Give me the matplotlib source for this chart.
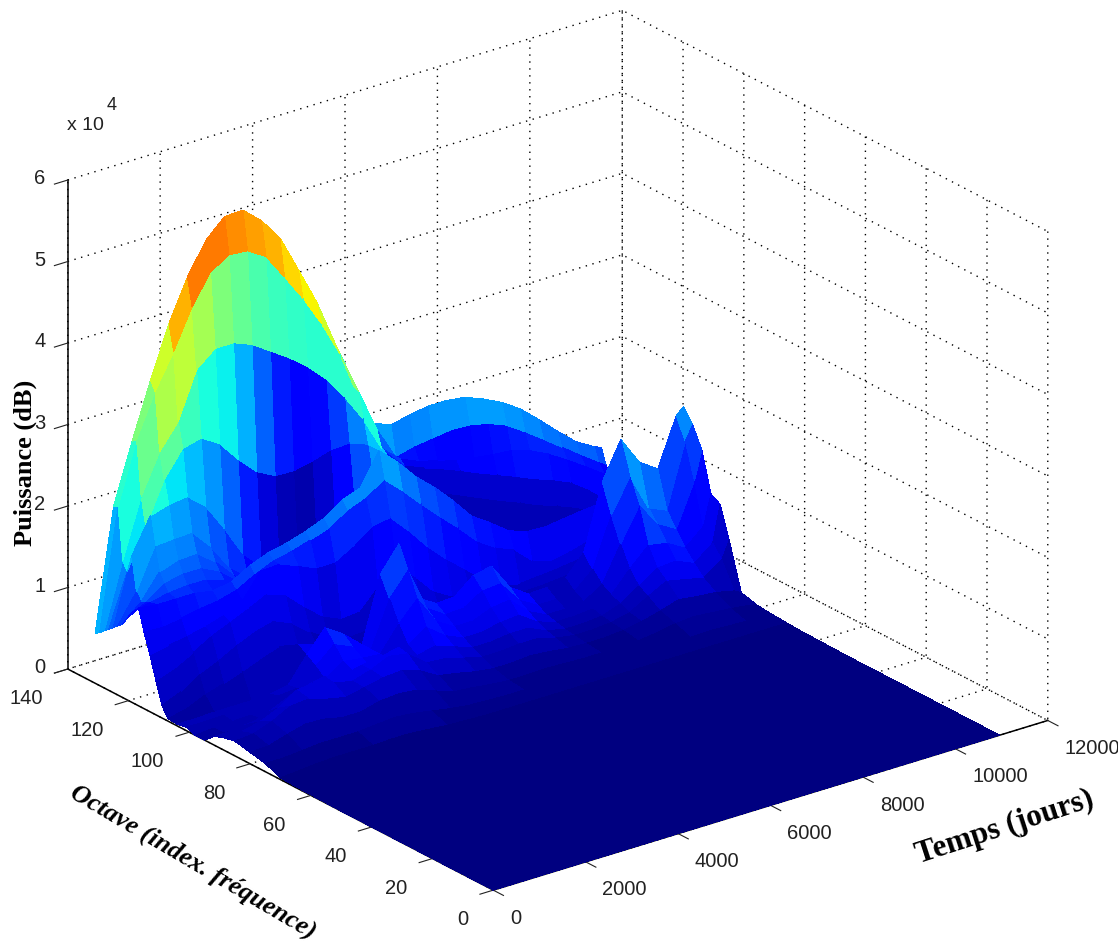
import numpy as np
import matplotlib
matplotlib.use("Agg")
import matplotlib.pyplot as plt
from mpl_toolkits.mplot3d import Axes3D  # noqa

plt.rcParams['font.family'] = ['Liberation Sans', 'DejaVu Sans']
plt.rcParams['grid.linestyle'] = (0, (1, 4))
plt.rcParams['grid.color'] = 'black'
plt.rcParams['grid.linewidth'] = 1.0

# --- data -------------------------------------------------------------
days = [0, 400, 800, 1200, 1600, 2000, 2400, 2800, 3200, 3600, 4000, 4400, 4800, 5200, 5600,
        6000, 6400, 6800, 7200, 7600, 8000, 8400, 8800, 9200, 9600, 10000, 10400, 10800, 10960]
octaves = [131, 129.5, 128, 126.5, 125, 123.5, 122, 120.5, 119, 116.7, 115, 113, 111, 109, 107,
           104, 101, 98, 95, 92, 89, 85, 80, 75, 70, 65, 50, 30, 0]
# power, in units of 1e4 dB; one row per octave, one value per day
power = [
 [.61,2.10,2.83,3.51,4.14,4.64,5.02,5.24,5.25,5.05,4.77,4.31,3.84,3.26,2.67,2.15,2.06,2.11,2.15,2.15,2.12,2.03,1.92,1.77,1.57,1.36,1.16,1.03,.99],
 [.65,2.13,2.88,3.40,3.82,4.30,4.66,4.80,4.78,4.64,4.32,3.99,3.61,3.17,2.64,2.10,1.70,1.76,1.79,1.82,1.81,1.76,1.67,1.52,1.36,1.19,1.02,.86,.80],
 [.70,1.49,2.21,2.69,2.99,3.56,3.75,3.75,3.66,3.51,3.36,3.18,2.96,2.67,2.33,1.90,1.70,1.60,1.54,1.49,1.45,1.42,1.40,1.33,1.22,1.08,.93,.77,.71],
 [.75,1.39,1.87,2.38,2.69,2.75,2.61,2.35,2.13,2.01,2.00,2.05,2.12,2.13,2.05,1.87,1.64,1.55,1.47,1.38,1.28,1.19,1.10,1.00,.92,.82,.66,.46,.37],
 [.80,1.61,2.03,2.10,2.13,1.94,1.60,1.22,1.00,.81,.80,.98,1.21,1.51,1.75,1.68,1.49,1.32,1.20,1.10,1.00,.90,.81,.71,.63,.54,.43,.24,.20],
 [.85,1.20,1.69,1.71,1.72,1.48,1.16,.98,.78,.65,.65,.76,.94,1.17,1.41,1.40,1.27,1.14,.98,.88,.78,.70,.63,.55,.47,.40,.30,.18,.15],
 [.90,1.10,1.40,1.48,1.49,1.32,1.08,.88,.70,.58,.57,.62,.75,.95,1.20,1.25,1.14,1.00,.88,.78,.68,.60,.53,.46,.40,.33,.25,.15,.12],
 [1.0,1.12,1.28,1.33,1.33,1.22,1.03,.85,.65,.52,.49,.52,.62,.80,1.02,1.12,1.03,.90,.80,.70,.60,.52,.46,.40,.34,.28,.22,.13,.10],
 [1.1,1.15,1.20,1.22,1.22,1.15,.98,.80,.60,.47,.42,.45,.52,.68,.88,1.00,.93,.82,.72,.62,.53,.46,.40,.35,.30,.25,.20,.12,.09],
 [1.20,1.17,1.17,1.17,1.13,1.17,1.30,1.39,1.44,1.51,1.60,1.76,1.84,2.23,2.02,1.77,1.57,1.34,1.08,.93,.76,.68,.67,.70,.73,.75,.53,.40,.40],
 [.95,.94,.97,1.01,1.04,1.10,1.22,1.32,1.37,1.44,1.52,1.67,1.76,1.91,1.70,1.47,1.25,1.04,.81,.66,.57,.36,.29,.33,.40,.42,.40,.35,.33],
 [.70,.74,.78,.83,.90,1.01,1.31,1.32,1.24,1.14,1.14,1.27,1.44,1.48,1.25,.99,.77,.58,.38,.23,.18,.20,.22,.25,.30,.33,.34,.32,.30],
 [.42,.50,.62,.75,.85,.95,1.06,.99,.78,.59,.49,.51,.75,.93,.73,.48,.35,.25,.18,.14,.13,.14,.16,.20,.24,.27,.28,.27,.25],
 [.15,.25,.40,.50,.62,.72,.78,.68,.50,.35,.28,.30,.45,.60,.45,.30,.20,.14,.10,.09,.09,.10,.13,.18,.22,.25,.30,.50,.55],
 [.03,.08,.18,.25,.33,.42,.50,.45,.38,.20,.16,.20,.30,.35,.28,.20,.15,.12,.08,.07,.08,.10,.20,.50,.80,.70,.70,1.0,1.10],
 [.02,.02,.03,.03,.03,.04,.08,.38,.65,.50,.30,1.10,1.40,.67,.53,.54,.73,.78,.45,.30,.31,.35,.60,1.40,1.85,1.50,1.35,1.93,2.02],
 [.04,.04,.05,.06,.07,.08,.10,.30,.50,.40,.30,.85,1.13,.60,.45,.46,.60,.62,.35,.22,.22,.25,.45,1.05,1.45,1.00,.90,1.68,1.85],
 [0,.02,.03,.04,.05,.06,.10,.20,.35,.32,.30,.60,.84,.50,.36,.36,.45,.48,.27,.16,.16,.18,.32,.75,1.15,.85,.72,1.25,1.60],
 [0,.02,.03,.05,.08,.15,.20,.25,.30,.28,.30,.40,.55,.38,.28,.28,.33,.35,.20,.13,.13,.15,.25,.50,.72,.68,.55,.75,1.12],
 [.10,.10,.12,.20,.30,.38,.42,.35,.42,.45,.50,.33,.38,.30,.22,.22,.25,.25,.15,.10,.10,.12,.20,.35,.50,.52,.42,.60,1.05],
 [.15,.15,.20,.30,.45,.48,.40,.35,.42,.52,.48,.30,.28,.22,.16,.16,.18,.18,.12,.08,.08,.10,.15,.28,.40,.35,.30,.45,.67],
 [.18,.20,.28,.40,.42,.35,.30,.35,.40,.42,.35,.22,.18,.13,.10,.10,.12,.10,.07,.06,.06,.08,.12,.18,.25,.22,.20,.15,.10],
 [.14,.15,.22,.28,.27,.22,.22,.28,.30,.28,.20,.12,.10,.07,.05,.05,.06,.05,.04,.04,.04,.05,.08,.12,.14,.12,.10,.07,.05],
 [.10,.10,.12,.14,.14,.14,.16,.18,.16,.12,.08,.05,.04,.03,.03,.03,.03,.03,.03,.03,.03,.03,.04,.05,.06,.05,.04,.03,.03],
 [.02,.04,.06,.07,.07,.07,.08,.08,.06,.04,.03,.02,.02,.02,.02,.02,.02,.02,.02,.02,.02,.02,.02,.02,.02,.02,.02,.02,.02],
 [.01,.01,.01,.01,.01,.01,.01,.01,.01,.01,.01,.01,.01,.01,.01,.01,.01,.01,.01,.01,.01,.01,.01,.01,.01,.01,.01,.01,.01],
 [0,0,0,0,0,0,0,0,0,0,0,0,0,0,0,0,0,0,0,0,0,0,0,0,0,0,0,0,0],
 [0,0,0,0,0,0,0,0,0,0,0,0,0,0,0,0,0,0,0,0,0,0,0,0,0,0,0,0,0],
 [0,0,0,0,0,0,0,0,0,0,0,0,0,0,0,0,0,0,0,0,0,0,0,0,0,0,0,0,0],
]
# colour index of each strip on the jet scale
tone = [
 [.30,.40,.50,.60,.72,.78,.78,.76,.74,.72,.68,.65,.60,.52,.42,.28,.25,.26,.27,.27,.28,.28,.27,.26,.24,.23,.22,.20,.20],
 [.28,.38,.48,.56,.58,.55,.50,.47,.44,.42,.41,.40,.40,.40,.38,.22,.14,.13,.12,.12,.13,.14,.15,.16,.16,.15,.14,.12,.12],
 [.25,.35,.44,.46,.42,.38,.36,.30,.22,.15,.12,.13,.18,.25,.32,.18,.10,.10,.10,.11,.12,.13,.14,.14,.13,.12,.11,.10,.10],
 [.22,.30,.38,.35,.31,.27,.22,.15,.08,.05,.04,.07,.12,.20,.27,.15,.07,.07,.07,.07,.07,.07,.07,.07,.07,.07,.07,.07,.07],
 [.20,.28,.30,.28,.25,.21,.17,.12,.06,.04,.03,.05,.08,.12,.18,.12,.05,.05,.05,.05,.05,.05,.05,.05,.05,.05,.05,.05,.05],
 [.18,.25,.26,.25,.22,.19,.15,.10,.06,.04,.03,.04,.06,.10,.14,.10,.05,.05,.05,.05,.05,.05,.05,.05,.05,.05,.05,.05,.05],
 [.16,.22,.23,.22,.20,.17,.13,.09,.05,.03,.03,.03,.05,.08,.12,.09,.05,.05,.05,.05,.05,.05,.05,.05,.05,.05,.05,.05,.05],
 [.14,.19,.20,.19,.18,.15,.12,.08,.05,.03,.02,.03,.04,.07,.10,.08,.05,.05,.05,.05,.05,.05,.05,.05,.05,.05,.05,.05,.05],
 [.13,.16,.17,.16,.15,.13,.10,.07,.04,.03,.02,.03,.04,.06,.09,.07,.05,.05,.05,.05,.05,.05,.05,.05,.05,.05,.05,.05,.05],
 [.12,.13,.14,.15,.16,.18,.20,.21,.22,.23,.24,.26,.26,.28,.24,.20,.18,.16,.14,.13,.11,.10,.10,.10,.10,.10,.10,.10,.10],
 [.10,.10,.11,.12,.12,.13,.15,.16,.15,.14,.16,.16,.17,.18,.17,.15,.13,.12,.10,.09,.08,.08,.08,.08,.08,.08,.08,.08,.08],
 [.08,.08,.09,.10,.11,.11,.11,.11,.10,.08,.10,.10,.12,.13,.12,.10,.09,.08,.07,.06,.06,.06,.06,.06,.06,.06,.06,.06,.06],
 [.06,.06,.07,.08,.09,.09,.09,.08,.07,.06,.06,.06,.08,.09,.08,.07,.06,.06,.05,.05,.05,.05,.05,.05,.06,.06,.10,.12,.12],
 [.04,.04,.05,.06,.07,.07,.07,.06,.05,.04,.05,.05,.05,.06,.06,.05,.05,.05,.04,.04,.04,.04,.06,.10,.14,.14,.14,.18,.18],
 [.03,.03,.04,.04,.05,.05,.05,.10,.12,.08,.08,.14,.22,.14,.12,.12,.17,.20,.14,.06,.05,.08,.15,.22,.30,.25,.20,.30,.30],
 [.05,.05,.05,.05,.05,.06,.07,.12,.16,.12,.10,.18,.22,.15,.12,.12,.15,.17,.12,.07,.05,.07,.12,.20,.27,.23,.19,.26,.26],
 [.04,.04,.05,.05,.05,.05,.07,.10,.13,.11,.09,.14,.17,.13,.10,.10,.12,.13,.10,.06,.05,.06,.10,.16,.22,.20,.16,.18,.20],
 [.03,.04,.04,.05,.05,.05,.06,.09,.11,.10,.08,.11,.14,.11,.09,.09,.10,.11,.08,.05,.05,.05,.08,.13,.18,.16,.12,.13,.15],
 [.03,.04,.05,.05,.06,.07,.08,.09,.10,.10,.08,.10,.12,.09,.07,.07,.08,.08,.06,.04,.04,.05,.07,.10,.13,.14,.10,.10,.10],
 [.04,.04,.05,.06,.07,.08,.09,.09,.10,.10,.08,.08,.08,.07,.05,.05,.06,.06,.04,.03,.03,.04,.05,.08,.10,.10,.08,.07,.07],
 [.04,.05,.06,.07,.08,.08,.07,.08,.09,.09,.07,.06,.06,.05,.04,.04,.04,.04,.03,.02,.02,.03,.04,.06,.07,.07,.05,.04,.04],
 [.03,.04,.05,.05,.05,.05,.05,.06,.06,.05,.04,.03,.03,.03,.02,.02,.02,.02,.02,.01,.01,.02,.02,.03,.03,.03,.02,.02,.02],
 [.02,.02,.03,.03,.03,.03,.03,.03,.03,.03,.02,.02,.02,.02,.01,.01,.01,.01,.01,.01,.01,.01,.01,.02,.02,.02,.01,.01,.01],
 [.01,.01,.01,.01,.01,.02,.02,.02,.02,.01,.01,.01,.01,.01,.01,.01,.01,.01,.01,.01,.01,.01,.01,.01,.01,.01,.01,.01,.01],
 [0,0,0,0,0,0,0,0,0,0,0,0,0,0,0,0,0,0,0,0,0,0,0,0,0,0,0,0,0],
 [0,0,0,0,0,0,0,0,0,0,0,0,0,0,0,0,0,0,0,0,0,0,0,0,0,0,0,0,0],
 [0,0,0,0,0,0,0,0,0,0,0,0,0,0,0,0,0,0,0,0,0,0,0,0,0,0,0,0,0],
 [0,0,0,0,0,0,0,0,0,0,0,0,0,0,0,0,0,0,0,0,0,0,0,0,0,0,0,0,0],
 [0,0,0,0,0,0,0,0,0,0,0,0,0,0,0,0,0,0,0,0,0,0,0,0,0,0,0,0,0],
]
x_ticks = [0, 2000, 4000, 6000, 8000, 10000, 12000]
y_ticks = [0, 20, 40, 60, 80, 100, 120, 140]
z_ticks = [0, 1, 2, 3, 4, 5, 6]

# --- figure -----------------------------------------------------------
W, H = 1118, 944
fig = plt.figure(figsize=(W / 100, H / 100), dpi=100, facecolor='white')
ax = fig.add_axes([-14 / W, 9 / H, 1, 1], projection='3d', proj_type='ortho', facecolor='none')
ax.view_init(elev=23.5, azim=-127.5)
ax.set_box_aspect((700, 700, 534), zoom=1.155)

X, Y = np.meshgrid(np.array(days, float), np.array(octaves, float))
Z = np.array(power, float)
C = plt.get_cmap('jet')(np.array(tone, float))
surf = ax.plot_surface(X, Y, Z, facecolors=C, rstride=1, cstride=1, linewidth=0,
                       antialiased=False, shade=False)
surf.set_clip_on(False)

ax.set_xlim(0, 12000, view_margin=0)
ax.set_ylim(0, 140, view_margin=0)
ax.set_zlim(0, 6, view_margin=0)
ax.set_xticks(x_ticks)
ax.set_yticks(y_ticks)
ax.set_zticks(z_ticks)
ax.set_xticklabels([str(v) for v in x_ticks], ha='left', va='center')
ax.set_yticklabels([str(v) for v in y_ticks], ha='right', va='center')
ax.set_zticklabels([str(v) for v in z_ticks], ha='center', va='center')
ax.tick_params(axis='x', labelsize=14.5, colors='#222222', pad=6)
ax.tick_params(axis='y', labelsize=14.5, colors='#222222', pad=8)
ax.tick_params(axis='z', labelsize=14.5, colors='#222222', pad=2)
for axis in (ax.xaxis, ax.yaxis, ax.zaxis):
    axis.set_pane_color((1, 1, 1, 0))
    axis.pane.set_edgecolor('black')
    axis.pane.set_linestyle((0, (1, 4)))
    axis.line.set_color('black')
    axis.line.set_linewidth(1.1)
    axis.set_clip_on(False)
    axis._axinfo['tick']['inward_factor'] = 0.3
    axis._axinfo['tick']['outward_factor'] = 0.0

serif = ['Liberation Serif', 'DejaVu Serif']
fig.text(25 / W, 1 - 463 / H, 'Puissance (dB)', rotation=90, family=serif, weight='bold',
         fontsize=19, ha='center', va='center')
fig.text(193 / W, 1 - 862 / H, 'Octave (index. fréquence)', rotation=-30.5, family=serif,
         weight='bold', style='italic', fontsize=19, ha='center', va='center',
         rotation_mode='anchor')
fig.text(1005 / W, 1 - 827 / H, 'Temps (jours)', rotation=18, family=serif, weight='bold',
         fontsize=22.5, ha='center', va='center', rotation_mode='anchor')
fig.text(67 / W, 1 - 125 / H, 'x 10', fontsize=14, color='#222222', ha='left', va='center')
fig.text(107 / W, 1 - 106 / H, '4', fontsize=13, color='#222222', ha='left', va='center')

fig.savefig('out.png', dpi=100)
